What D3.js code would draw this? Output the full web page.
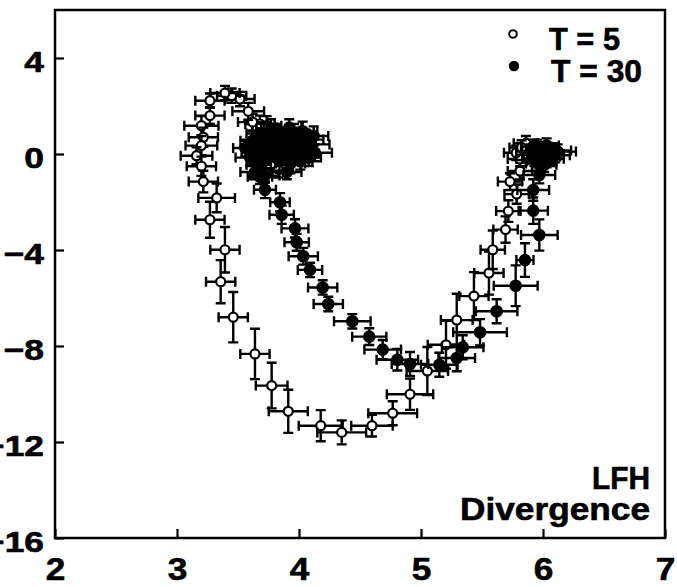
<!DOCTYPE html>
<html>
<head>
<meta charset="utf-8">
<script src="https://cdn.jsdelivr.net/npm/d3@7"></script>
<style>
  body { margin: 0; background: #fff; }
  svg { display: block; }
  text { font-family: "Liberation Sans", Arial, sans-serif; font-weight: bold; fill: #000; stroke: #000; stroke-width: 0.6px; }
</style>
</head>
<body>
<div id="chart"></div>
<script>
// LFH divergence: two runs (T = 5 open, T = 30 filled), each point [x, y, xErr, yErr]

var t5Points = [
	[3.83,-0.63,0.12,0.35],[3.735,1.18,0.12,0.4],[3.68,1.25,0.12,0.35],[3.62,1.33,0.12,0.35],
	[3.584,1.78,0.13,0.35],[3.516,2.29,0.12,0.3],[3.448,2.43,0.12,0.3],[3.393,2.54,0.12,0.3],
	[3.27,2.22,0.12,0.3],[3.27,1.6,0.12,0.35],[3.2,1.18,0.14,0.4],[3.216,0.7,0.12,0.4],
	[3.2,0.35,0.13,0.4],[3.16,-0.07,0.13,0.35],[3.2,-0.51,0.12,0.4],[3.216,-1.15,0.12,0.45],
	[3.325,-1.83,0.15,0.6],[3.27,-2.74,0.12,0.75],[3.393,-3.99,0.12,0.95],[3.358,-5.32,0.12,0.9],
	[3.461,-6.8,0.12,1.05],[3.639,-8.33,0.12,1.05],[3.776,-9.65,0.13,0.95],[3.912,-10.72,0.16,0.9],
	[4.178,-11.32,0.18,0.65],[4.35,-11.6,0.2,0.5],[4.598,-11.32,0.17,0.45],[4.768,-10.8,0.2,0.5],
	[4.91,-10.01,0.19,0.65],[5.052,-9.04,0.17,1.0],[5.205,-7.95,0.15,1.0],[5.293,-6.92,0.13,1.1],
	[5.434,-5.92,0.12,1.0],[5.557,-4.96,0.12,0.9],[5.588,-3.99,0.1,0.8],[5.693,-3.15,0.1,0.55],
	[5.716,-2.38,0.1,0.45],[5.784,-1.67,0.1,0.4],[5.73,-1.15,0.1,0.35],[5.811,-0.71,0.1,0.35],
	[5.811,-0.21,0.1,0.3],[5.78,0.05,0.1,0.3],[5.86,0.45,0.1,0.3],[5.825,0.27,0.1,0.3]
];

var t30Points = [
	// cluster near the start
	[3.56,0.25,0.1,0.35],[3.6,-0.15,0.12,0.35],[3.62,0.55,0.1,0.4],[3.65,0.1,0.12,0.35],
	[3.67,-0.45,0.1,0.35],[3.69,0.85,0.12,0.4],[3.71,0.35,0.1,0.35],[3.73,-0.2,0.12,0.4],
	[3.75,0.65,0.1,0.35],[3.77,1.05,0.12,0.4],[3.78,0.05,0.1,0.35],[3.8,0.45,0.12,0.4],
	[3.82,0.9,0.1,0.35],[3.84,-0.3,0.12,0.4],[3.85,0.2,0.1,0.35],[3.87,0.7,0.12,0.4],
	[3.89,-0.05,0.1,0.35],[3.9,0.5,0.12,0.4],[3.92,1.1,0.1,0.35],[3.93,-0.4,0.12,0.4],
	[3.95,0.3,0.1,0.35],[3.96,0.85,0.12,0.4],[3.98,0.0,0.1,0.35],[4.0,0.55,0.12,0.4],
	[4.01,-0.3,0.1,0.35],[4.03,0.95,0.12,0.4],[4.04,0.2,0.1,0.35],[4.06,0.6,0.14,0.4],
	[4.08,-0.15,0.1,0.35],[4.1,0.4,0.15,0.35],[4.12,0.75,0.12,0.4],[4.13,0.05,0.14,0.35],
	[3.64,-0.75,0.12,0.3],[3.72,-0.9,0.12,0.3],[3.68,-0.95,0.1,0.3],[3.9,-0.75,0.12,0.3],
	// the middle branch
	[3.721,-1.49,0.09,0.35],[3.844,-2.01,0.08,0.38],[3.858,-2.53,0.1,0.38],[3.967,-3.1,0.11,0.38],
	[3.981,-3.68,0.1,0.35],[4.035,-4.26,0.12,0.35],[4.09,-4.83,0.1,0.3],[4.194,-5.56,0.12,0.3],
	[4.24,-6.25,0.12,0.3],[4.437,-6.97,0.15,0.3],[4.576,-7.61,0.14,0.35],[4.686,-8.15,0.15,0.4],
	[4.806,-8.57,0.17,0.45],[4.91,-8.75,0.15,0.5],[5.15,-8.78,0.15,0.5],[5.293,-8.5,0.15,0.55],
	[5.342,-8.05,0.17,0.5],[5.484,-7.43,0.22,0.55],[5.62,-6.55,0.17,0.5],[5.776,-5.49,0.18,0.85],
	[5.852,-4.42,0.07,0.7],[5.97,-3.375,0.15,0.65],[5.92,-2.36,0.12,0.55],[5.92,-1.5,0.13,0.45],
	[5.97,-0.875,0.13,0.35],
	// cluster at the end
	[5.9,0.1,0.12,0.3],[5.93,-0.2,0.1,0.3],[5.95,0.3,0.12,0.3],[5.97,0.0,0.1,0.3],
	[5.99,-0.3,0.12,0.3],[6.0,0.2,0.1,0.3],[6.02,-0.1,0.12,0.3],[6.03,0.35,0.1,0.3],
	[6.05,0.0,0.12,0.3],[6.07,-0.2,0.1,0.3],[6.08,0.15,0.15,0.3],[6.1,-0.05,0.12,0.3],
	[6.12,0.1,0.15,0.3],[5.96,-0.4,0.1,0.3],[6.01,-0.45,0.1,0.3],[5.92,0.3,0.1,0.3]
];

var xTicks = [2, 3, 4, 5, 6, 7];
var yTicks = [-16, -12, -8, -4, 0, 4];
var legendLabels = ["T = 5", "T = 30"];
var noteLines = ["LFH", "Divergence"];

// 1. size
var outWidth = 677, outHeight = 587;
var margin = {top: 10, right: 12, bottom: 49, left: 55},
	width = outWidth - margin.left - margin.right,
	height = outHeight - margin.top - margin.bottom;

// 2. scales
var xScale = d3.scaleLinear().domain([2, 7]).range([0, width]);
var yScale = d3.scaleLinear().domain([-16, 6]).range([height, 0]);

var svg = d3.select("#chart")
	.append("svg")
	.attr("width", outWidth)
	.attr("height", outHeight)
	.append("g")
	.attr("transform", "translate(" + margin.left + "," + margin.top + ")");

// 3. axes, ticks point inward
var xAxis = d3.axisBottom(xScale).tickValues(xTicks).tickFormat(d3.format("d"))
	.tickSizeInner(-9).tickSizeOuter(0);
var yAxis = d3.axisLeft(yScale).tickValues(yTicks).tickFormat(d3.format("d"))
	.tickSizeInner(-9).tickSizeOuter(0);

var gx = svg.append("g")
	.attr("transform", "translate(0," + height + ")")
	.call(xAxis);
gx.select(".domain").remove();
gx.selectAll("line").attr("stroke", "#000").attr("stroke-width", 2.2);
gx.selectAll("text")
	.attr("y", null).attr("dy", null)
	.attr("transform", "translate(0,42) scale(1.1,1)")
	.style("font-size", "32px");

var gy = svg.append("g").call(yAxis);
gy.select(".domain").remove();
gy.selectAll("line").attr("stroke", "#000").attr("stroke-width", 2.2);
gy.selectAll("text")
	.attr("x", null).attr("dy", null)
	.attr("text-anchor", "end")
	.attr("transform", "translate(-11,13) scale(1.22,1)")
	.style("font-size", "29px");

// frame
svg.append("rect")
	.attr("width", width)
	.attr("height", height)
	.attr("fill", "none")
	.attr("stroke", "#000")
	.attr("stroke-width", 2.5);

// 4. points with error bars, one group per point
function drawSeries(data, filled) {
	var cap = 5;
	var g = svg.append("g").selectAll("g")
		.data(data)
		.enter().append("g");
	// horizontal bar
	g.append("path")
		.attr("fill", "none").attr("stroke", "#000").attr("stroke-width", 2.4)
		.attr("d", function(d) {
			var x0 = xScale(d[0] - d[2]), x1 = xScale(d[0] + d[2]), y = yScale(d[1]);
			return "M" + x0 + "," + y + "H" + x1 +
				"M" + x0 + "," + (y - cap) + "V" + (y + cap) +
				"M" + x1 + "," + (y - cap) + "V" + (y + cap);
		});
	// vertical bar
	g.append("path")
		.attr("fill", "none").attr("stroke", "#000").attr("stroke-width", 2.4)
		.attr("d", function(d) {
			var x = xScale(d[0]), y0 = yScale(d[1] - d[3]), y1 = yScale(d[1] + d[3]);
			return "M" + x + "," + y0 + "V" + y1 +
				"M" + (x - cap) + "," + y0 + "H" + (x + cap) +
				"M" + (x - cap) + "," + y1 + "H" + (x + cap);
		});
	g.append("circle")
		.attr("cx", function(d) { return xScale(d[0]); })
		.attr("cy", function(d) { return yScale(d[1]); })
		.attr("r", filled ? 5.2 : 4.5)
		.attr("fill", filled ? "#000" : "#fff")
		.attr("stroke", "#000")
		.attr("stroke-width", 2.2);
}

drawSeries(t5Points, false);
drawSeries(t30Points, true);

// 5. legend (top right)
var legend = svg.append("g");
legend.append("circle")
	.attr("cx", 458).attr("cy", 24).attr("r", 3.8)
	.attr("fill", "#fff").attr("stroke", "#000").attr("stroke-width", 2);
legend.append("circle")
	.attr("cx", 459).attr("cy", 56).attr("r", 5.2)
	.attr("fill", "#000");
legend.append("text")
	.attr("x", 494).attr("y", 40)
	.attr("textLength", 71).attr("lengthAdjust", "spacingAndGlyphs")
	.style("font-size", "32px")
	.text(legendLabels[0]);
legend.append("text")
	.attr("x", 496).attr("y", 72)
	.attr("textLength", 91).attr("lengthAdjust", "spacingAndGlyphs")
	.style("font-size", "31px")
	.text(legendLabels[1]);

// note in the bottom right corner
svg.append("text")
	.attr("x", 595 - 58).attr("y", 479)
	.attr("textLength", 58).attr("lengthAdjust", "spacingAndGlyphs")
	.style("font-size", "32px")
	.text(noteLines[0]);
svg.append("text")
	.attr("x", 595 - 190).attr("y", 510)
	.attr("textLength", 190).attr("lengthAdjust", "spacingAndGlyphs")
	.style("font-size", "31px")
	.text(noteLines[1]);
</script>
</body>
</html>
